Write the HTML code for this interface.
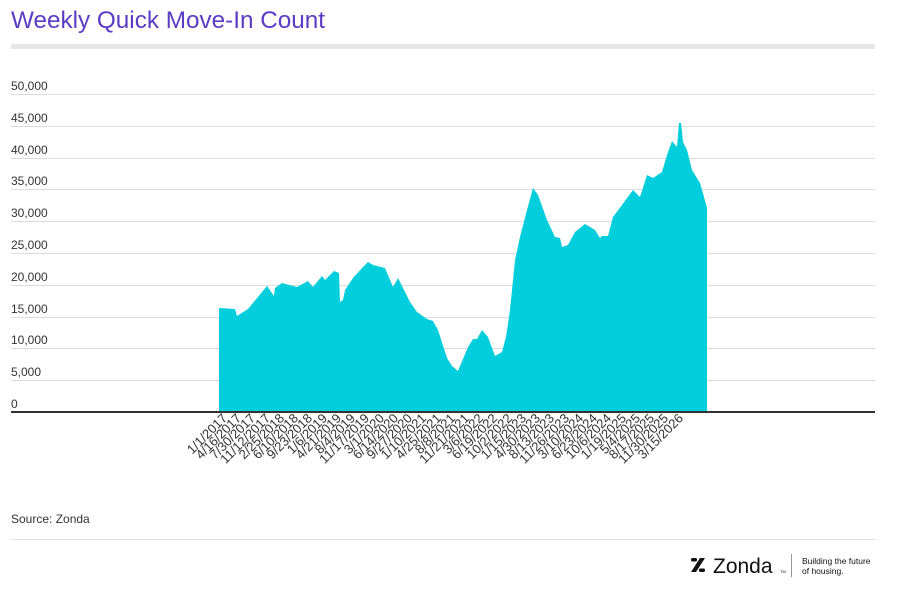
<!DOCTYPE html>
<html><head><meta charset="utf-8"><style>
body{margin:0;background:#fff;width:909px;height:602px;overflow:hidden;font-family:"Liberation Sans",sans-serif}
</style></head><body>
<svg width="909" height="602" xmlns="http://www.w3.org/2000/svg" font-family="Liberation Sans, sans-serif">
<text x="11" y="28" font-size="24" fill="#5b3cc4" textLength="314" lengthAdjust="spacingAndGlyphs">Weekly Quick Move-In Count</text>
<rect x="11" y="44" width="864" height="5" fill="#e6e6e6"/>
<g stroke="#dcdcdc" stroke-width="1">
<line x1="11" x2="875" y1="94.5" y2="94.5"/><line x1="11" x2="875" y1="126.5" y2="126.5"/>
<line x1="11" x2="875" y1="158.5" y2="158.5"/><line x1="11" x2="875" y1="189.5" y2="189.5"/>
<line x1="11" x2="875" y1="221.5" y2="221.5"/><line x1="11" x2="875" y1="253.5" y2="253.5"/>
<line x1="11" x2="875" y1="285.5" y2="285.5"/><line x1="11" x2="875" y1="317.5" y2="317.5"/>
<line x1="11" x2="875" y1="348.5" y2="348.5"/><line x1="11" x2="875" y1="380.5" y2="380.5"/>
</g>
<g font-size="12" fill="#333">
<text x="11" y="90">50,000</text><text x="11" y="122">45,000</text><text x="11" y="154">40,000</text>
<text x="11" y="185">35,000</text><text x="11" y="217">30,000</text><text x="11" y="249">25,000</text>
<text x="11" y="281">20,000</text><text x="11" y="313">15,000</text><text x="11" y="344">10,000</text>
<text x="11" y="376">5,000</text><text x="11" y="408">0</text>
</g>
<polygon fill="#00cedd" points="219,412 219,308 235,309 237,316 248,309 267,286 274,296 275,288 282,283 297,287 308,281 313,287 322,276 325,280 334,271 339,273 340,302 343,300 345,290 353,278 363,267 368,262 373,265 385,268 393,287 398,278 410,302 417,312 427,319 433,321 438,330 447,358 452,366 458,371 463,359 468,347 473,339 477,339 482,330 488,337 495,356 502,352 506,337 510,310 515,260 520,237 527,210 533,188 538,195 547,220 555,237 560,238 562,247 568,245 575,232 585,224 595,230 600,238 602,236 608,236 613,217 622,205 633,190 640,197 647,175 653,178 662,172 667,155 672,141 677,147 679,123 681,123 683,142 687,150 692,170 700,183 704,197 707,208 707,412"/>
<rect x="11" y="411" width="864" height="2" fill="#333"/>
<g font-size="13" fill="#333" text-anchor="end">
<text transform="translate(228,419) rotate(-45)">1/1/2017</text>
<text transform="translate(242,419) rotate(-45)">4/16/2017</text>
<text transform="translate(256,419) rotate(-45)">7/30/2017</text>
<text transform="translate(271,419) rotate(-45)">11/12/2017</text>
<text transform="translate(285,419) rotate(-45)">2/25/2018</text>
<text transform="translate(299,419) rotate(-45)">6/10/2018</text>
<text transform="translate(313,419) rotate(-45)">9/23/2018</text>
<text transform="translate(328,419) rotate(-45)">1/6/2019</text>
<text transform="translate(342,419) rotate(-45)">4/21/2019</text>
<text transform="translate(356,419) rotate(-45)">8/4/2019</text>
<text transform="translate(370,419) rotate(-45)">11/17/2019</text>
<text transform="translate(385,419) rotate(-45)">3/1/2020</text>
<text transform="translate(399,419) rotate(-45)">6/14/2020</text>
<text transform="translate(413,419) rotate(-45)">9/27/2020</text>
<text transform="translate(427,419) rotate(-45)">1/10/2021</text>
<text transform="translate(442,419) rotate(-45)">4/25/2021</text>
<text transform="translate(456,419) rotate(-45)">8/8/2021</text>
<text transform="translate(470,419) rotate(-45)">11/21/2021</text>
<text transform="translate(484,419) rotate(-45)">3/6/2022</text>
<text transform="translate(498,419) rotate(-45)">6/19/2022</text>
<text transform="translate(513,419) rotate(-45)">10/2/2022</text>
<text transform="translate(527,419) rotate(-45)">1/15/2023</text>
<text transform="translate(541,419) rotate(-45)">4/30/2023</text>
<text transform="translate(555,419) rotate(-45)">8/13/2023</text>
<text transform="translate(570,419) rotate(-45)">11/26/2023</text>
<text transform="translate(584,419) rotate(-45)">3/10/2024</text>
<text transform="translate(598,419) rotate(-45)">6/23/2024</text>
<text transform="translate(612,419) rotate(-45)">10/6/2024</text>
<text transform="translate(627,419) rotate(-45)">1/19/2025</text>
<text transform="translate(641,419) rotate(-45)">5/4/2025</text>
<text transform="translate(655,419) rotate(-45)">8/17/2025</text>
<text transform="translate(669,419) rotate(-45)">11/30/2025</text>
<text transform="translate(684,419) rotate(-45)">3/15/2026</text>
</g>
<text x="11" y="523" font-size="12" fill="#333">Source: Zonda</text>
<line x1="11" x2="875" y1="539.5" y2="539.5" stroke="#e0e0e0"/>
<g fill="#111">
<rect x="691" y="558" width="6" height="3.5" rx="1.5"/>
<polygon points="700,558 705,558 696,572 691,572"/>
<rect x="699" y="568.5" width="6" height="3.5" rx="1.5"/>
</g>
<text x="713" y="573" font-size="21" fill="#111">Zonda</text>
<text x="780" y="573" font-size="4" fill="#111">TM</text>
<line x1="791.5" x2="791.5" y1="554" y2="577" stroke="#999"/>
<text x="802" y="564" font-size="8.5" fill="#111">Building the future</text>
<text x="802" y="574" font-size="8.5" fill="#111">of housing.</text>
</svg>
</body></html>
